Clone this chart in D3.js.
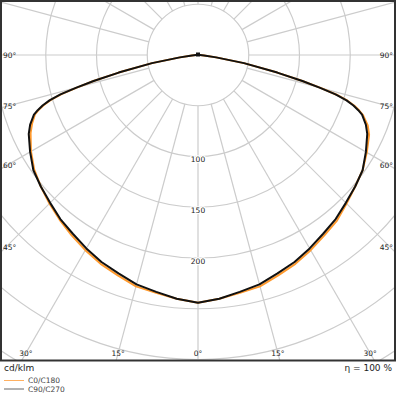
<!DOCTYPE html>
<html>
<head>
<meta charset="utf-8">
<script src="https://cdn.jsdelivr.net/npm/d3@7"></script>
<style>
  body { margin: 0; background: #fff; }
  svg { display: block; font-family: 'DejaVu Sans', sans-serif; }
</style>
</head>
<body>
<svg></svg>
<script>
const WIDTH = 396;
const HEIGHT = 396;
const CENTER = { x: 198, y: 55 };
const FRAME = { left: 1, top: 1, right: 395, bottom: 360.5 };

// gamma angles (deg) and intensities (cd/klm)
const GAMMA = [0, 5, 10, 15, 20, 25, 30, 35, 40, 45, 50, 55, 60, 65, 67.5, 70, 71, 72, 73, 74, 75, 76, 77.5, 80, 82.5, 85, 87.5, 90];
const C90 = [244, 241, 237, 234, 229, 225, 220, 215, 211, 206, 202, 198, 191, 184, 179, 172, 167, 161, 153, 141, 124, 106, 80, 46, 18, 6, 2, 0];
const C0 = [244, 241, 238, 236, 231, 227, 222, 217, 213, 207, 202, 198, 192, 186, 181, 173, 168, 162, 154, 142, 125, 106, 80, 46, 18, 6, 2, 0];
const C180 = [244, 241, 238, 236, 231, 227, 222, 217, 212, 207, 202, 197, 190, 182, 177, 171, 166, 160, 152, 140, 123, 106, 80, 46, 18, 6, 2, 0];
const RINGS = [50, 100, 150, 200, 250, 300, 350, 400];
const RING_LABELS = [100, 150, 200];
const SPOKES = d3.range(0, 360, 15);
const ANGLE_LABELS = [90, 75, 60, 45, 30, 15, 0];

const svg = d3.select('svg').attr('width', WIDTH).attr('height', HEIGHT);

const r = d3.scaleLinear().domain([0, 300]).range([0, 304.5]);

svg.append('defs').append('clipPath').attr('id', 'plot')
  .append('rect')
  .attr('x', FRAME.left).attr('y', FRAME.top)
  .attr('width', FRAME.right - FRAME.left).attr('height', FRAME.bottom - FRAME.top);

const plot = svg.append('g').attr('clip-path', 'url(#plot)');
const g = plot.append('g').attr('transform', `translate(${CENTER.x}, ${CENTER.y})`);

// rings
g.selectAll('circle.ring')
  .data(RINGS)
  .enter()
  .append('circle')
  .attr('r', (d) => r(d))
  .attr('fill', 'none')
  .attr('stroke', '#cccccc')
  .attr('stroke-width', 1.2);

// spokes (start at the first ring), angle measured from straight down
const rad = (deg) => (deg * Math.PI) / 180;
g.selectAll('line.spoke')
  .data(SPOKES)
  .enter()
  .append('line')
  .attr('x1', (d) => r(50) * Math.sin(rad(d)))
  .attr('y1', (d) => r(50) * Math.cos(rad(d)))
  .attr('x2', (d) => r(500) * Math.sin(rad(d)))
  .attr('y2', (d) => r(500) * Math.cos(rad(d)))
  .attr('stroke', '#cccccc')
  .attr('stroke-width', 1.2);

// curves: left half (C180 / C270) then right half (C0 / C90)
const radial = d3.lineRadial().angle((d) => d[0]).radius((d) => r(d[1]));
function halves(left, right) {
  const pts = [];
  for (let i = GAMMA.length - 1; i >= 0; i--) pts.push([Math.PI + rad(GAMMA[i]), left[i]]);
  for (let i = 1; i < GAMMA.length; i++) pts.push([Math.PI - rad(GAMMA[i]), right[i]]);
  return pts;
}

g.append('path')
  .attr('d', radial(halves(C180, C0)))
  .attr('fill', 'none')
  .attr('stroke', '#ff9a2e')
  .attr('stroke-width', 2)
  .attr('stroke-linejoin', 'round');

g.append('path')
  .attr('d', radial(halves(C90, C90)))
  .attr('fill', 'none')
  .attr('stroke', '#111111')
  .attr('stroke-width', 2)
  .attr('stroke-linejoin', 'round');

// small end marker at the luminaire centre
g.append('rect')
  .attr('x', -2).attr('y', -2.5)
  .attr('width', 4).attr('height', 4)
  .attr('fill', '#111');

// ring labels along the 0° axis
g.selectAll('text.ring')
  .data(RING_LABELS)
  .enter()
  .append('text')
  .attr('x', 0)
  .attr('y', (d) => r(d) + 3)
  .attr('dy', '0.35em')
  .attr('text-anchor', 'middle')
  .attr('font-size', 7.5)
  .attr('fill', '#222')
  .attr('stroke', '#fff')
  .attr('stroke-width', 2.5)
  .attr('paint-order', 'stroke')
  .text((d) => d);

// angle labels where each spoke meets an inset of the frame
const inset = { left: 6, right: 390, bottom: 353 };
const labelPos = [];
ANGLE_LABELS.forEach((a) => {
  const sides = a === 0 ? [1] : [-1, 1];
  sides.forEach((s) => {
    const sx = Math.sin(rad(a));
    const cy = Math.cos(rad(a));
    const tSide = sx > 1e-6 ? (s < 0 ? CENTER.x - inset.left : inset.right - CENTER.x) / sx : Infinity;
    const tBottom = cy > 1e-6 ? (inset.bottom - CENTER.y) / cy : Infinity;
    if (tSide < tBottom) {
      labelPos.push({ a, x: s < 0 ? 3 : 393, y: CENTER.y + tSide * cy, anchor: s < 0 ? 'start' : 'end' });
    } else {
      labelPos.push({ a, x: CENTER.x + s * tBottom * sx, y: inset.bottom, anchor: 'middle' });
    }
  });
});

svg.selectAll('text.angle')
  .data(labelPos)
  .enter()
  .append('text')
  .attr('x', (d) => d.x)
  .attr('y', (d) => d.y)
  .attr('dy', '0.35em')
  .attr('text-anchor', (d) => d.anchor)
  .attr('font-size', 7.5)
  .attr('fill', '#222')
  .text((d) => d.a + '°');

// frame
svg.append('rect')
  .attr('x', FRAME.left).attr('y', FRAME.top)
  .attr('width', FRAME.right - FRAME.left).attr('height', FRAME.bottom - FRAME.top)
  .attr('fill', 'none')
  .attr('stroke', '#333')
  .attr('stroke-width', 2);

// footer
svg.append('text').attr('x', 4).attr('y', 368).attr('dy', '0.35em')
  .attr('font-size', 9).attr('fill', '#222').text('cd/klm');
svg.append('text').attr('x', 392).attr('y', 368).attr('dy', '0.35em')
  .attr('text-anchor', 'end').attr('font-size', 9).attr('fill', '#222').text('η = 100 %');

const legend = [
  { name: 'C0/C180', color: '#ffb060' },
  { name: 'C90/C270', color: '#666666' }
];
const lg = svg.selectAll('g.legend')
  .data(legend)
  .enter()
  .append('g')
  .attr('transform', (d, i) => `translate(4, ${380.5 + i * 8.5})`);
lg.append('line').attr('x1', 0).attr('x2', 20).attr('y1', 0).attr('y2', 0)
  .attr('stroke', (d) => d.color).attr('stroke-width', 1);
lg.append('text').attr('x', 24).attr('y', 0).attr('dy', '0.35em')
  .attr('font-size', 7.5).attr('fill', '#444').text((d) => d.name);
</script>
</body>
</html>
